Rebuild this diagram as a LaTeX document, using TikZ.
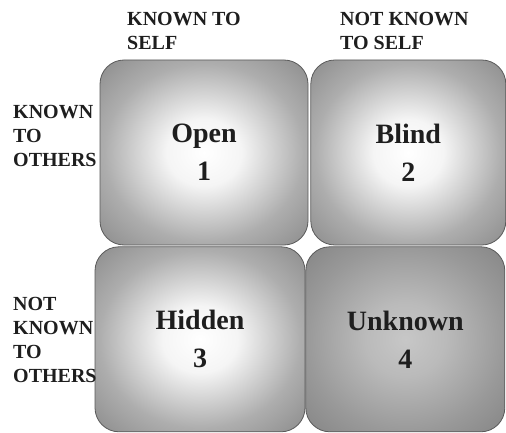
\documentclass[tikz,border=0pt]{standalone}
\usepackage{fontspec}
\setmainfont{Liberation Serif}
\usepackage{tikz}
\usetikzlibrary{positioning}
\definecolor{wininkc}{HTML}{1E1E1E}
\definecolor{winedge}{HTML}{5A5A5A}
\pgfdeclareradialshading{winglow}{\pgfpoint{0bp}{0bp}}{%
  color(0bp)=(white); color(9bp)=(white!96!black); color(24bp)=(black!32);
  color(38bp)=(black!48); color(50bp)=(black!56)}
\pgfdeclareradialshading{winglowdark}{\pgfpoint{0bp}{0bp}}{%
  color(0bp)=(black!22); color(10bp)=(black!27); color(25bp)=(black!40);
  color(40bp)=(black!51); color(50bp)=(black!57)}

\begin{document}
\begin{tikzpicture}[x=1pt,y=-1pt,
  pane/.style={draw=winedge,line width=0.8pt,rounded corners=24pt,inner sep=0pt,
    minimum height=185pt,align=center,text=wininkc,
    font=\fontsize{28}{38}\selectfont\bfseries},
  axis/.style={anchor=north west,inner sep=0pt,align=left,text=wininkc,
    font=\fontsize{20}{24}\selectfont\bfseries}]
\fill[white] (0,0) rectangle (506,433);
\useasboundingbox (0,0) rectangle (506,433);
% the four panes
\node[pane,shading=winglow,minimum width=208pt] (open) at (204,152.5) {Open\\1};
\node[pane,shading=winglow,minimum width=195pt,right=2pt of open] (blind) {Blind\\2};
\node[pane,shading=winglow,minimum width=210pt,below=1pt of open,xshift=-4pt] (hidden) {Hidden\\3};
\node[pane,shading=winglowdark,minimum width=199pt,right=0pt of hidden] (unknown) {Unknown\\4};
% headings
\node[axis] (self) at (127,12) {KNOWN TO\\SELF};
\node[axis] (notself) at (340,12) {NOT KNOWN\\TO SELF};
\node[axis] (others) at (13,105) {KNOWN\\TO\\OTHERS};
\node[axis] (notothers) at (13,297) {NOT\\KNOWN\\TO\\OTHERS};
\end{tikzpicture}
\end{document}
